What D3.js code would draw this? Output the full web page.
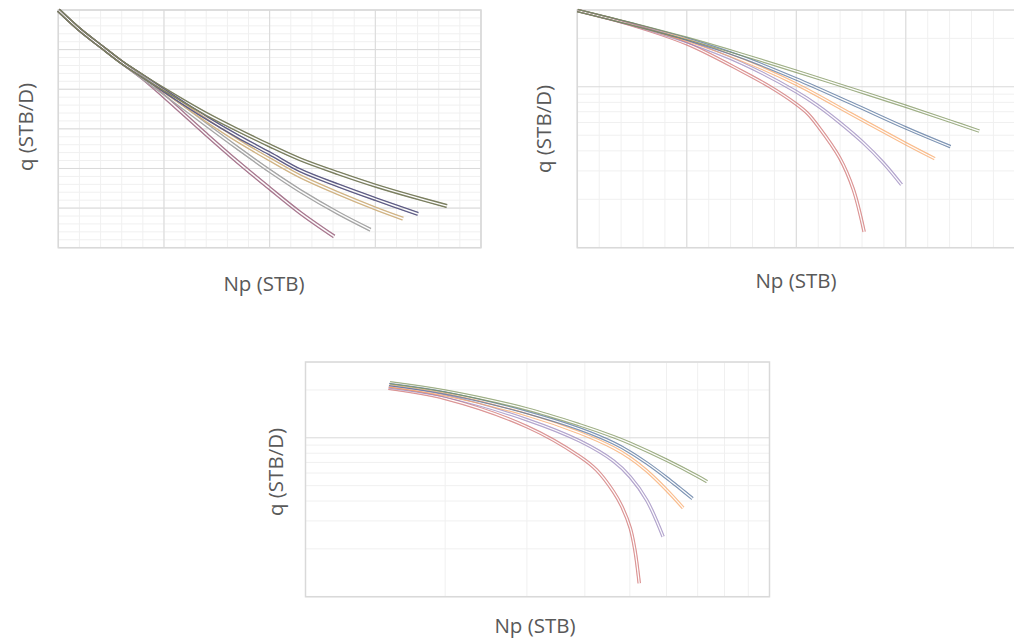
<!DOCTYPE html>
<html>
<head>
<meta charset="utf-8">
<script src="https://cdn.jsdelivr.net/npm/d3@7"></script>
<style>
body{margin:0;background:#fff;}
svg{display:block;}
text{font-family:"Open Sans",sans-serif;fill:#595959;}
</style>
</head>
<body>
<svg width="1014" height="641"></svg>
<script>
// ---- panel 1 : q vs Np, linear / linear ----
const p1XMinor = d3.range(0, 2001, 100);
const p1XMajor = d3.range(0, 2001, 500);
const p1YMinor = d3.range(0, 601, 20);
const p1YMajor = d3.range(0, 601, 100);
const p1Olive = [[0,600],[100,551],[200,509],[300,468],[400,433],[500,400],[700,338],[850,297],[1000,258],[1145,223],[1325,188],[1505,156],[1670,130],[1840,105]];
const p1Blue  = [[0,600],[100,551],[200,509],[300,468],[400,433],[500,397],[700,328],[850,281],[1000,238],[1145,195],[1325,157],[1505,122],[1703,85]];
const p1Tan   = [[0,600],[100,551],[200,509],[300,468],[400,433],[500,396],[700,322],[850,270],[1000,223],[1145,180],[1325,137],[1505,98],[1632,73]];
const p1Grey  = [[0,600],[100,551],[200,509],[300,468],[400,429],[500,390],[700,310],[850,251],[1000,194],[1145,143],[1325,87],[1478,45]];
const p1Mauve = [[0,600],[100,551],[200,509],[300,468],[400,428],[500,382],[700,286],[850,216],[1000,150],[1145,88],[1306,28]];

// ---- panel 2 : linear Np, log q ----
const p2XMinor = d3.range(0, 2001, 100);
const p2XMajor = d3.range(0, 2001, 500);
const p2YMinor = [20,30,40,50,60,70,80,90,200,300];
const p2YMajor = [10,100];
const p2Red    = [[0,298],[254,241],[500,185],[751,125],[880,100],[999,78.2],[1050,68.6],[1100,56.8],[1198,36.2],[1260,23.1],[1310,12.5]];
const p2Purple = [[0,298],[254,243],[500,191],[751,140],[999,93.3],[1100,76],[1198,60],[1306,44.9],[1397,33.7],[1481,24.6]];
const p2Orange = [[0,298],[254,244],[500,195],[751,147],[999,104],[1250,67.8],[1500,44.3],[1633,35.7]];
const p2Blue   = [[0,298],[254,244.5],[500,198],[751,153],[999,112],[1250,79.1],[1500,55.5],[1705,42.4]];
const p2Green  = [[0,298],[254,245],[500,200],[751,159],[999,125],[1250,97.4],[1500,75.7],[1702,61.2],[1836,53]];

// ---- panel 3 : log Np, log q ----
const p3XMinor = [200,300,400,500,600,700,800,900];
const p3XMajor = [100,1000];
const p3YMinor = [20,30,40,50,60,70,80,90,200,300];
const p3YMajor = [10,100];
const p3Red    = [[150.8,205],[200,177],[300,117.5],[390,76.3],[424,62.7],[461,45.8],[480,37.2],[501,27.1],[513,19.5],[524,12.1]];
const p3Purple = [[151,209],[200,183],[300,130],[390,95.5],[461,71.4],[501,56.7],[544,40.4],[590,23.8]];
const p3Orange = [[151.3,212],[200,187],[300,139.5],[390,107.4],[461,86.4],[501,74.7],[544,61.9],[600,47],[652,36.1]];
const p3Blue   = [[151.3,216.5],[200,191.4],[300,144.3],[390,113.6],[461,92.8],[501,81.2],[544,69.3],[600,56.1],[641,48.1],[683,41.4]];
const p3Green  = [[152,222],[200,197],[300,152],[390,120.6],[461,101.8],[501,92.3],[600,72.3],[702,57],[734,52.9]];

const xTitle = "Np (STB)";
const yTitle = "q (STB/D)";

const svg = d3.select("svg");
const defs = svg.append("defs");
let maskId = 0;

function drawGrid(g, x, y, xMinor, xMajor, yMinor, yMajor){
  const [x0, x1] = x.range();
  const [y0, y1] = y.range();
  g.selectAll("line.vmin").data(xMinor).join("line").attr("class","vmin")
    .attr("x1", d => x(d)).attr("x2", d => x(d)).attr("y1", y0).attr("y2", y1)
    .attr("stroke", "#f0f0f0");
  g.selectAll("line.hmin").data(yMinor).join("line").attr("class","hmin")
    .attr("x1", x0).attr("x2", x1).attr("y1", d => y(d)).attr("y2", d => y(d))
    .attr("stroke", "#f0f0f0");
  g.selectAll("line.vmaj").data(xMajor).join("line").attr("class","vmaj")
    .attr("x1", d => x(d)).attr("x2", d => x(d)).attr("y1", y0).attr("y2", y1)
    .attr("stroke", "#d9d9d9");
  g.selectAll("line.hmaj").data(yMajor).join("line").attr("class","hmaj")
    .attr("x1", x0).attr("x2", x1).attr("y1", d => y(d)).attr("y2", d => y(d))
    .attr("stroke", "#d9d9d9");
  g.append("rect").attr("x", x0).attr("y", y1).attr("width", x1 - x0).attr("height", y0 - y1)
    .attr("fill", "none").attr("stroke", "#d9d9d9").attr("stroke-width", 1.5);
}

// each series is drawn as a double line: a wide stroke with its centre masked out
function drawDouble(g, x, y, pts, color, outer, gap, op){
  const line = d3.line().x(d => x(d[0])).y(d => y(d[1])).curve(d3.curveCatmullRom.alpha(0.5));
  const d = line(pts);
  const id = "m" + (maskId++);
  const m = defs.append("mask").attr("id", id).attr("maskUnits", "userSpaceOnUse")
    .attr("x", 0).attr("y", 0).attr("width", 1014).attr("height", 641);
  m.append("path").attr("d", d).attr("fill", "none").attr("stroke", "#fff").attr("stroke-width", outer + 1);
  m.append("path").attr("d", d).attr("fill", "none").attr("stroke", "#000").attr("stroke-width", gap);
  g.append("path").attr("d", d).attr("mask", "url(#" + id + ")")
    .attr("fill", "none").attr("stroke", color).attr("stroke-width", outer)
    .attr("stroke-opacity", op);
}

function titles(xt, yt){
  svg.append("text").attr("x", xt[0]).attr("y", xt[1]).attr("text-anchor", "middle")
    .style("font-size", "20.5px").text(xTitle);
  svg.append("text").attr("transform", "translate(" + yt[0] + "," + yt[1] + ") rotate(-90)")
    .attr("text-anchor", "middle").style("font-size", "20.5px").text(yTitle);
}

// panel 1
{
  const x = d3.scaleLinear().domain([0, 2000]).range([58.3, 481]);
  const y = d3.scaleLinear().domain([0, 600]).range([247.7, 10]);
  const g = svg.append("g");
  drawGrid(g, x, y, p1XMinor, p1XMajor, p1YMinor, p1YMajor);
  const series = [[p1Mauve,"#a8788f"],[p1Grey,"#a6a6a6"],[p1Tan,"#d1b485"],[p1Blue,"#5f5d85"],[p1Olive,"#7b7f60"]];
  series.forEach(s => drawDouble(g, x, y, s[0], s[1], 4.2, 1.4, 1));
  titles([264, 291], [33, 127]);
}

// panel 2
{
  const x = d3.scaleLinear().domain([0, 2000]).range([577.3, 1015.3]);
  const y = d3.scaleLog().domain([10, 300]).range([247.7, 10]);
  const g = svg.append("g");
  drawGrid(g, x, y, p2XMinor, p2XMajor, p2YMinor, p2YMajor);
  const series = [[p2Red,"#cd6a69"],[p2Purple,"#9480b9"],[p2Orange,"#f8a25f"],[p2Blue,"#4a6995"],[p2Green,"#778f54"]];
  series.forEach(s => drawDouble(g, x, y, s[0], s[1], 3.6, 1.2, 0.7));
  titles([796, 288], [551, 129]);
}

// panel 3
{
  const x = d3.scaleLog().domain([100, 1000]).range([305.5, 769.5]);
  const y = d3.scaleLog().domain([10, 300]).range([596.7, 362]);
  const g = svg.append("g");
  drawGrid(g, x, y, p3XMinor, p3XMajor, p3YMinor, p3YMajor);
  const series = [[p3Red,"#cd6a69"],[p3Purple,"#9480b9"],[p3Orange,"#f8a25f"],[p3Blue,"#4a6995"],[p3Green,"#778f54"]];
  series.forEach(s => drawDouble(g, x, y, s[0], s[1], 3.6, 1.2, 0.7));
  titles([535, 633], [283, 472]);
}
</script>
</body>
</html>
